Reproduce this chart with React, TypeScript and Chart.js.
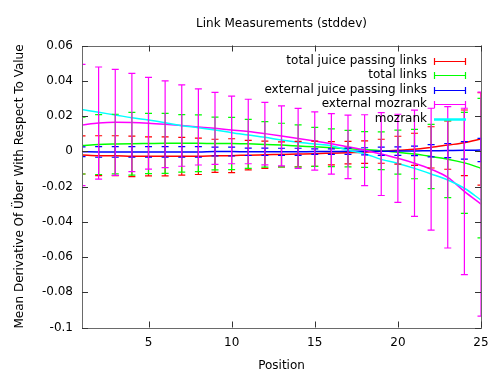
import React, { useEffect, useRef } from "react";
import { Chart, registerables } from "chart.js";
Chart.register(...registerables);

const FONT = "'DejaVu Sans', sans-serif";

const TITLE = "Link Measurements (stddev)";
const X_TITLE = "Position";
const Y_TITLE = "Mean Derivative Of Über With Respect To Value";

const SERIES_LABELS = [
  "total juice passing links",
  "total links",
  "external juice passing links",
  "external mozrank",
  "mozrank",
];
const COLORS = ["#ff0000", "#00ff00", "#0000ff", "#ff00ff", "#00ffff"];

const POSITIONS = [1, 2, 3, 4, 5, 6, 7, 8, 9, 10, 11, 12, 13, 14, 15, 16, 17, 18, 19, 20, 21, 22, 23, 24, 25];

const X_TICKS = [5, 10, 15, 20, 25];
const Y_TICKS = [0.06, 0.04, 0.02, 0, -0.02, -0.04, -0.06, -0.08, -0.1];
const Y_TICK_LABELS = ["0.06", "0.04", "0.02", "0", "-0.02", "-0.04", "-0.06", "-0.08", "-0.1"];

// total juice passing links (red)
const JUICE_MEAN = [-0.0021, -0.0025, -0.0025, -0.0029, -0.0029, -0.0029, -0.0028, -0.0029, -0.0026, -0.0025, -0.0022, -0.002, -0.0018, -0.0016, -0.0014, -0.0011, -0.0008, -0.0005, 0.0, 0.0006, 0.0011, 0.0022, 0.0035, 0.0048, 0.007];
const JUICE_SD = [0.0108, 0.0113, 0.0113, 0.0115, 0.0111, 0.0111, 0.0107, 0.0103, 0.0094, 0.0096, 0.0084, 0.0077, 0.0071, 0.0072, 0.0071, 0.0066, 0.0064, 0.0064, 0.0068, 0.0079, 0.0091, 0.0117, 0.0137, 0.0186, 0.0262];

// total links (green)
const LINKS_MEAN = [0.0032, 0.0038, 0.0041, 0.0043, 0.0044, 0.0045, 0.0045, 0.0045, 0.0044, 0.0044, 0.0042, 0.0039, 0.0035, 0.003, 0.0025, 0.002, 0.0015, 0.001, 0.0003, -0.0005, -0.0016, -0.003, -0.0045, -0.0066, -0.0096];
const LINKS_SD = [0.0161, 0.017, 0.0169, 0.0178, 0.0171, 0.017, 0.0163, 0.0161, 0.015, 0.0148, 0.0139, 0.0129, 0.0124, 0.012, 0.0111, 0.0107, 0.0104, 0.0101, 0.0107, 0.0125, 0.014, 0.0182, 0.0218, 0.0287, 0.0396];

// external juice passing links (blue)
const EXT_JUICE_MEAN = [-0.0003, -0.0004, -0.0004, -0.0004, -0.0004, -0.0004, -0.0004, -0.0004, -0.0002, -0.0002, -0.0003, -0.0003, -0.0003, -0.0003, -0.0002, -0.0002, 0.0, 0.0, 0.0, 0.0001, 0.0002, 0.0003, 0.0004, 0.0005, 0.0007];
const EXT_JUICE_SD = [0.0028, 0.003, 0.003, 0.003, 0.003, 0.003, 0.003, 0.003, 0.0025, 0.0025, 0.0021, 0.0021, 0.002, 0.002, 0.0016, 0.0016, 0.0018, 0.002, 0.0023, 0.0024, 0.0027, 0.0035, 0.004, 0.005, 0.0066];

// external mozrank (magenta)
const EXT_MOZ_MEAN = [0.0149, 0.016, 0.0164, 0.0163, 0.0159, 0.0153, 0.0146, 0.0138, 0.013, 0.0121, 0.0112, 0.01, 0.0087, 0.0073, 0.0058, 0.0042, 0.0025, 0.0006, -0.0016, -0.004, -0.0068, -0.0102, -0.0148, -0.0228, -0.03];
const EXT_MOZ_SD = [0.0344, 0.0318, 0.0301, 0.0279, 0.026, 0.0246, 0.0231, 0.0216, 0.0204, 0.0192, 0.0183, 0.0177, 0.017, 0.017, 0.0165, 0.0172, 0.018, 0.0201, 0.0235, 0.025, 0.0301, 0.0346, 0.0401, 0.0472, 0.0635];

// mozrank (cyan, line only)
const MOZRANK = [0.0237, 0.0221, 0.0206, 0.019, 0.0177, 0.0162, 0.0145, 0.0134, 0.0121, 0.0105, 0.0092, 0.0079, 0.0064, 0.0051, 0.0041, 0.0031, 0.0006, -0.0014, -0.0046, -0.0069, -0.0097, -0.0129, -0.0163, -0.021, -0.0277];

const MEANS = [JUICE_MEAN, LINKS_MEAN, EXT_JUICE_MEAN, EXT_MOZ_MEAN, MOZRANK];
const SDS: (number[] | null)[] = [JUICE_SD, LINKS_SD, EXT_JUICE_SD, EXT_MOZ_SD, null];

const errorBarPlugin = {
  id: "errorBars",
  afterDatasetsDraw(chart: any) {
    const { ctx, chartArea, scales } = chart;
    const xs = scales.x;
    const ys = scales.y;
    ctx.save();
    ctx.beginPath();
    ctx.rect(chartArea.left, chartArea.top, chartArea.right - chartArea.left, chartArea.bottom - chartArea.top);
    ctx.clip();
    chart.data.datasets.forEach((ds: any) => {
      const sd = ds.errorSd;
      if (!sd) return;
      ctx.strokeStyle = ds.borderColor;
      ctx.lineWidth = 1.2;
      ds.data.forEach((pt: any, i: number) => {
        const x = xs.getPixelForValue(pt.x);
        const yTop = ys.getPixelForValue(pt.y + sd[i]);
        const yBot = ys.getPixelForValue(pt.y - sd[i]);
        ctx.beginPath();
        ctx.moveTo(x, yTop);
        ctx.lineTo(x, yBot);
        ctx.moveTo(x - 3.5, yTop);
        ctx.lineTo(x + 3.5, yTop);
        ctx.moveTo(x - 3.5, yBot);
        ctx.lineTo(x + 3.5, yBot);
        ctx.stroke();
      });
    });
    ctx.restore();
  },
};

const decorPlugin = {
  id: "decor",
  afterDraw(chart: any) {
    const { ctx, chartArea, scales } = chart;
    const { left, right, top, bottom } = chartArea;
    const xs = scales.x;
    const ys = scales.y;
    ctx.save();
    // frame
    ctx.strokeStyle = "#6a6a6a";
    ctx.lineWidth = 1;
    ctx.strokeRect(Math.round(left) + 0.5, Math.round(top) + 0.5, Math.round(right - left), Math.round(bottom - top));
    // tick marks (inward, mirrored)
    ctx.strokeStyle = "#333";
    ctx.beginPath();
    const TL = 6;
    X_TICKS.forEach((v) => {
      const x = Math.round(xs.getPixelForValue(v)) + 0.5;
      ctx.moveTo(x, bottom);
      ctx.lineTo(x, bottom - TL);
      ctx.moveTo(x, top);
      ctx.lineTo(x, top + TL);
    });
    Y_TICKS.forEach((v) => {
      const y = Math.round(ys.getPixelForValue(v)) + 0.5;
      ctx.moveTo(left, y);
      ctx.lineTo(left + TL, y);
      ctx.moveTo(right, y);
      ctx.lineTo(right - TL, y);
    });
    ctx.stroke();

    // titles
    ctx.fillStyle = "#000";
    ctx.font = "12px " + FONT;
    ctx.textAlign = "center";
    ctx.textBaseline = "middle";
    ctx.fillText(TITLE, (left + right) / 2, 24);
    ctx.fillText(X_TITLE, (left + right) / 2, 366);
    ctx.save();
    ctx.translate(20, (top + bottom) / 2);
    ctx.rotate(-Math.PI / 2);
    ctx.fillText(Y_TITLE, 0, 0);
    ctx.restore();

    // legend
    const rowY0 = 60.5;
    const step = 14.6;
    chart.data.datasets.forEach((ds: any, i: number) => {
      const y = rowY0 + i * step;
      ctx.fillStyle = "#000";
      ctx.textAlign = "right";
      ctx.textBaseline = "middle";
      ctx.fillText(ds.label, 427, y);
      const yy = Math.round(y) + 0.5;
      ctx.strokeStyle = ds.borderColor;
      if (ds.errorSd) {
        ctx.lineWidth = 1.2;
        ctx.beginPath();
        ctx.moveTo(434, yy);
        ctx.lineTo(466, yy);
        ctx.moveTo(434.5, yy - 3.5);
        ctx.lineTo(434.5, yy + 3.5);
        ctx.moveTo(465.5, yy - 3.5);
        ctx.lineTo(465.5, yy + 3.5);
        ctx.stroke();
      } else {
        ctx.lineWidth = 2.5;
        ctx.beginPath();
        ctx.moveTo(434, yy);
        ctx.lineTo(466, yy);
        ctx.stroke();
      }
    });
    ctx.restore();
  },
};

export default function App() {
  const ref = useRef<HTMLCanvasElement>(null);
  useEffect(() => {
    const datasets = SERIES_LABELS.map((label, i) => ({
      type: "line" as const,
      label,
      data: POSITIONS.map((x, j) => ({ x, y: MEANS[i][j] })),
      errorSd: SDS[i],
      borderColor: COLORS[i],
      backgroundColor: COLORS[i],
      borderWidth: 1.5,
      pointRadius: 0,
      fill: false,
      cubicInterpolationMode: "monotone" as const,
      order: 4 - i,
    }));
    const chart = new Chart(ref.current!, {
      type: "line",
      data: { datasets: datasets as any },
      options: {
        animation: false,
        responsive: false,
        devicePixelRatio: 1,
        layout: { padding: { left: 0, right: 19, top: 45.5, bottom: 0 } },
        plugins: {
          legend: { display: false },
          title: { display: false },
          tooltip: { enabled: false },
        },
        scales: {
          x: {
            type: "linear",
            min: 1,
            max: 25,
            afterBuildTicks: (s: any) => {
              s.ticks = X_TICKS.map((v) => ({ value: v }));
            },
            afterFit: (s: any) => {
              s.height = 47.5;
            },
            grid: { display: false, drawTicks: false },
            border: { display: false },
            ticks: {
              autoSkip: false,
              maxRotation: 0,
              padding: 8,
              color: "#000",
              font: { family: FONT, size: 12 },
              callback: (v: any) => String(v),
            },
          },
          y: {
            type: "linear",
            min: -0.1,
            max: 0.06,
            afterBuildTicks: (s: any) => {
              s.ticks = Y_TICKS.map((v) => ({ value: v }));
            },
            afterFit: (s: any) => {
              s.width = 82;
            },
            grid: { display: false, drawTicks: false },
            border: { display: false },
            ticks: {
              autoSkip: false,
              padding: 9,
              color: "#000",
              font: { family: FONT, size: 12 },
              callback: (v: any) => {
                const j = Y_TICKS.findIndex((t) => Math.abs(t - Number(v)) < 1e-9);
                return j >= 0 ? Y_TICK_LABELS[j] : "";
              },
            },
          },
        },
      } as any,
      plugins: [errorBarPlugin, decorPlugin],
    });
    return () => chart.destroy();
  }, []);
  return (
    <div style={{ position: "absolute", left: 0, top: 0, width: 500, height: 375, background: "#fff" }}>
      <canvas ref={ref} width={500} height={375} style={{ width: 500, height: 375, display: "block" }} />
    </div>
  );
}
